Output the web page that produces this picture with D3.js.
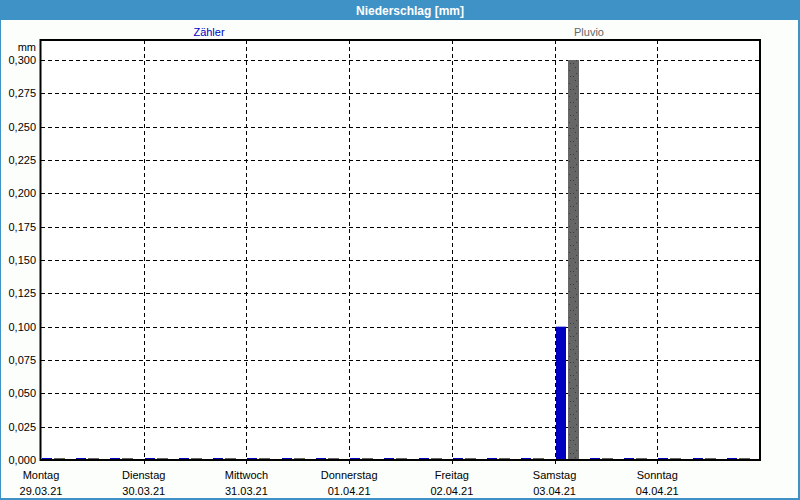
<!DOCTYPE html>
<html><head><meta charset="utf-8">
<script src="https://cdn.jsdelivr.net/npm/d3@7"></script>
<style>
html,body{margin:0;padding:0;background:#fff;}
svg{display:block;font-family:"Liberation Sans",Arial,sans-serif;}
</style></head>
<body><svg id="c" width="800" height="500"></svg>
<script>
// ---- data ----
const title = "Niederschlag [mm]";
const unitLabel = "mm";
const seriesNames = ["Zähler", "Pluvio"];
const intervalStarts = [
  "2021-03-29T00:00","2021-03-29T08:00","2021-03-29T16:00",
  "2021-03-30T00:00","2021-03-30T08:00","2021-03-30T16:00",
  "2021-03-31T00:00","2021-03-31T08:00","2021-03-31T16:00",
  "2021-04-01T00:00","2021-04-01T08:00","2021-04-01T16:00",
  "2021-04-02T00:00","2021-04-02T08:00","2021-04-02T16:00",
  "2021-04-03T00:00","2021-04-03T08:00","2021-04-03T16:00",
  "2021-04-04T00:00","2021-04-04T08:00","2021-04-04T16:00"
];
const zaehler = [0,0,0, 0,0,0, 0,0,0, 0,0,0, 0,0,0, 0.1,0,0, 0,0,0];
const pluvio  = [0,0,0, 0,0,0, 0,0,0, 0,0,0, 0,0,0, 0.3,0,0, 0,0,0];
const dayNames = ["Montag","Dienstag","Mittwoch","Donnerstag","Freitag","Samstag","Sonntag"];
const dayDates = ["29.03.21","30.03.21","31.03.21","01.04.21","02.04.21","03.04.21","04.04.21"];
const yTicks = [0,0.025,0.05,0.075,0.1,0.125,0.15,0.175,0.2,0.225,0.25,0.275,0.3];

// ---- layout ----
const W = 800, H = 500;
const L = 41, R = 760, T = 40, B = 460;
const parse = d3.timeParse("%Y-%m-%dT%H:%M");
const starts = intervalStarts.map(parse);
const dayStarts = dayDates.map(d => d3.timeParse("%d.%m.%y")(d));
const x = d3.scaleTime().domain([parse("2021-03-29T00:00"), parse("2021-04-05T00:00")]).range([L, R]);
const y = d3.scaleLinear().domain([0, 0.315]).range([B, T]);
const fmt = v => d3.format(".3f")(v).replace(".", ",");

const svg = d3.select("#c");
const defs = svg.append("defs");
const pat = defs.append("pattern").attr("id","dots").attr("patternUnits","userSpaceOnUse")
  .attr("width",11).attr("height",13);
pat.append("rect").attr("width",11).attr("height",13).attr("fill","#666666");
[[3,2],[8,5],[4,8],[9,11],[1,11]].forEach(([cx,cy]) =>
  pat.append("rect").attr("x",cx).attr("y",cy).attr("width",1).attr("height",1).attr("fill","#3a3a3a"));

// background & frame
svg.append("rect").attr("width",W).attr("height",H).attr("fill","#3f92c5");
svg.append("rect").attr("x",1).attr("y",20).attr("width",W-3).attr("height",H-22).attr("fill","#fcfefc");
svg.append("text").attr("x",410).attr("y",15).attr("text-anchor","middle")
  .attr("fill","#fff").attr("font-weight","bold").attr("font-size",12).text(title);

// legend labels
svg.append("text").attr("x",209).attr("y",36).attr("text-anchor","middle").attr("font-size",11)
  .attr("fill","#0000c8").text(seriesNames[0]);
svg.append("text").attr("x",589).attr("y",36).attr("text-anchor","middle").attr("font-size",11)
  .attr("fill","#666666").text(seriesNames[1]);

// plot area
svg.append("rect").attr("x",L).attr("y",T).attr("width",R-L).attr("height",B-T).attr("fill","#ffffff");

// grid
const g = svg.append("g");
g.selectAll("line.h").data(yTicks.filter(v=>v>0)).join("line")
  .attr("x1",L).attr("x2",R).attr("y1",d=>Math.round(y(d))+0.5).attr("y2",d=>Math.round(y(d))+0.5)
  .attr("stroke","#000").attr("stroke-dasharray","4,3");
g.selectAll("line.v").data(dayStarts.slice(1)).join("line")
  .attr("y1",T).attr("y2",B+5).attr("x1",d=>Math.round(x(d))+0.5).attr("x2",d=>Math.round(x(d))+0.5)
  .attr("stroke","#000").attr("stroke-dasharray","4,3");

// bars
const bars = svg.append("g");
bars.selectAll("rect.z").data(zaehler).join("rect")
  .attr("x",(d,i)=>Math.round(x(starts[i]))+1).attr("width",10)
  .attr("y",d=>Math.min(y(d), B-2)).attr("height",d=>Math.max(B-y(d),2))
  .attr("fill","#0000c0");
bars.selectAll("rect.p").data(pluvio).join("rect")
  .attr("x",(d,i)=>Math.round(x(starts[i]))+13).attr("width",11)
  .attr("y",d=>Math.min(y(d), B-2)).attr("height",d=>Math.max(B-y(d),2))
  .attr("fill",d=>d>0?"url(#dots)":"#666666");

// frame of plot
svg.append("rect").attr("x",L-0.5).attr("y",T).attr("width",R-L+0.5).attr("height",B-T)
  .attr("fill","none").attr("stroke","#000").attr("stroke-width",2);

// y axis labels
svg.append("text").attr("x",36).attr("y",51).attr("text-anchor","end").attr("font-size",11).attr("fill","#000").text(unitLabel);
svg.selectAll("text.yl").data(yTicks).join("text")
  .attr("x",36).attr("y",d=>y(d)+4).attr("text-anchor","end").attr("font-size",11).attr("fill","#000")
  .text(fmt);

// x axis labels
svg.selectAll("text.xd").data(dayStarts).join("text")
  .attr("x",d=>x(d)).attr("y",479).attr("text-anchor","middle").attr("font-size",11).attr("fill","#000")
  .text((d,i)=>dayNames[i]);
svg.selectAll("text.xt").data(dayStarts).join("text")
  .attr("x",d=>x(d)).attr("y",495).attr("text-anchor","middle").attr("font-size",11).attr("fill","#000")
  .text((d,i)=>dayDates[i]);
</script></body></html>
